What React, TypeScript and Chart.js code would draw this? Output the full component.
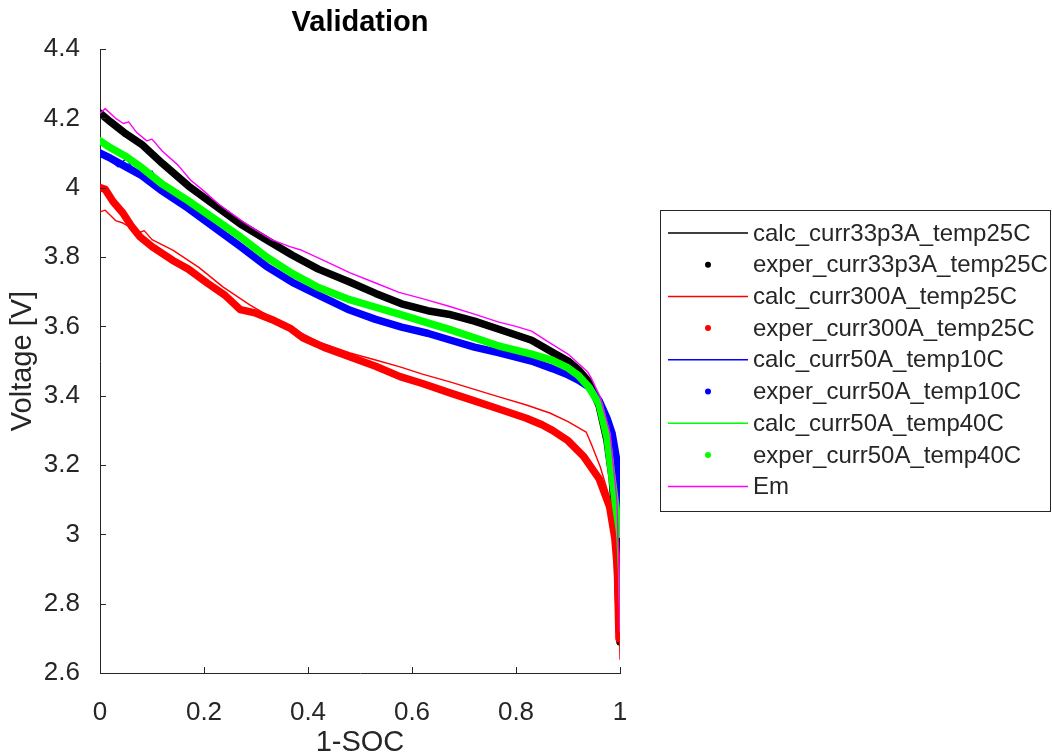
import React, { useEffect, useRef } from "react";
import { Chart, registerables } from "chart.js";

Chart.register(...registerables);

// ---- data ----
const gridSoc = [0, 0.02, 0.05, 0.08, 0.12, 0.17, 0.22, 0.27, 0.32, 0.37, 0.42, 0.48, 0.53, 0.58, 0.63, 0.67, 0.72, 0.77, 0.83, 0.87, 0.9, 0.92, 0.94, 0.96, 0.975, 0.985, 0.993, 0.997, 1.0];

const calc33V = [4.21, 4.188, 4.152, 4.122, 4.068, 4.003, 3.948, 3.893, 3.848, 3.803, 3.763, 3.726, 3.693, 3.663, 3.645, 3.633, 3.613, 3.588, 3.558, 3.525, 3.5, 3.478, 3.445, 3.38, 3.28, 3.15, 2.98, 2.8, 2.7];
const exper33V = [4.215, 4.19, 4.155, 4.125, 4.07, 4.005, 3.95, 3.895, 3.85, 3.805, 3.765, 3.728, 3.695, 3.665, 3.645, 3.635, 3.615, 3.59, 3.56, 3.525, 3.5, 3.475, 3.44, 3.37, 3.27, 3.16, 2.99, 2.82, 2.69];

const calc300Soc = [0, 0.01, 0.03, 0.044, 0.06, 0.075, 0.085, 0.1, 0.14, 0.19, 0.237, 0.288, 0.33, 0.365, 0.42, 0.481, 0.53, 0.577, 0.62, 0.673, 0.72, 0.769, 0.82, 0.865, 0.9, 0.935, 0.945, 0.962, 0.981, 0.994, 0.998, 1.0];
const calc300V = [3.93, 3.935, 3.905, 3.898, 3.885, 3.87, 3.876, 3.85, 3.82, 3.77, 3.713, 3.662, 3.625, 3.598, 3.555, 3.523, 3.503, 3.483, 3.462, 3.44, 3.418, 3.396, 3.373, 3.35, 3.325, 3.295, 3.26, 3.195, 3.1, 2.955, 2.8, 2.64];
const exper300Soc = [0, 0.01, 0.025, 0.044, 0.06, 0.077, 0.1, 0.14, 0.17, 0.206, 0.24, 0.27, 0.3, 0.33, 0.365, 0.39, 0.43, 0.48, 0.53, 0.577, 0.62, 0.673, 0.72, 0.77, 0.82, 0.85, 0.87, 0.9, 0.93, 0.96, 0.98, 0.99, 0.995, 0.998];
const exper300V = [4.0, 3.995, 3.96, 3.927, 3.89, 3.858, 3.83, 3.79, 3.765, 3.725, 3.69, 3.648, 3.638, 3.62, 3.595, 3.567, 3.54, 3.512, 3.485, 3.455, 3.435, 3.408, 3.385, 3.36, 3.335, 3.316, 3.3, 3.27, 3.225, 3.16, 3.08, 2.99, 2.9, 2.7];

const calc10Soc = [0, 0.015, 0.035, 0.05, 0.065, 0.085, 0.1, 0.115, 0.14, 0.17, 0.22, 0.27, 0.32, 0.37, 0.42, 0.48, 0.53, 0.58, 0.63, 0.67, 0.72, 0.77, 0.83, 0.87, 0.9, 0.92, 0.94, 0.96, 0.975, 0.985, 0.993, 0.997, 1.0];
const calc10V = [4.09, 4.085, 4.06, 4.085, 4.05, 4.03, 4.048, 4.01, 3.98, 3.945, 3.887, 3.832, 3.775, 3.728, 3.69, 3.65, 3.622, 3.6, 3.582, 3.565, 3.542, 3.525, 3.502, 3.48, 3.462, 3.447, 3.428, 3.39, 3.34, 3.29, 3.22, 3.14, 3.02];
const exper10V = [4.1, 4.085, 4.06, 4.035, 3.99, 3.94, 3.885, 3.83, 3.773, 3.727, 3.69, 3.647, 3.62, 3.598, 3.58, 3.562, 3.54, 3.523, 3.5, 3.478, 3.46, 3.445, 3.425, 3.385, 3.335, 3.29, 3.22, 3.15, 3.0];

const calc40V = [4.13, 4.112, 4.087, 4.055, 4.008, 3.96, 3.908, 3.856, 3.8, 3.75, 3.71, 3.675, 3.653, 3.63, 3.608, 3.59, 3.565, 3.54, 3.518, 3.5, 3.478, 3.456, 3.423, 3.37, 3.27, 3.15, 3.03, 2.9, 2.75];
const exper40V = [4.135, 4.115, 4.09, 4.058, 4.01, 3.962, 3.91, 3.858, 3.8, 3.752, 3.712, 3.677, 3.655, 3.633, 3.61, 3.592, 3.567, 3.542, 3.52, 3.502, 3.48, 3.458, 3.425, 3.375, 3.28, 3.16, 3.07, 3.03, 3.0];

const emSoc = [0, 0.01, 0.03, 0.045, 0.055, 0.07, 0.09, 0.1, 0.12, 0.15, 0.174, 0.2, 0.23, 0.27, 0.29, 0.33, 0.365, 0.385, 0.43, 0.48, 0.53, 0.575, 0.62, 0.671, 0.72, 0.767, 0.8, 0.83, 0.862, 0.9, 0.938, 0.945, 0.962, 0.981, 0.994, 0.998, 1.0];
const emV = [4.215, 4.228, 4.2, 4.185, 4.19, 4.16, 4.135, 4.14, 4.105, 4.065, 4.022, 3.99, 3.95, 3.907, 3.887, 3.85, 3.83, 3.821, 3.79, 3.755, 3.725, 3.698, 3.68, 3.658, 3.635, 3.612, 3.6, 3.586, 3.555, 3.52, 3.468, 3.45, 3.396, 3.292, 3.1, 2.9, 2.72];

const seriesNames = [
  "calc_curr33p3A_temp25C",
  "exper_curr33p3A_temp25C",
  "calc_curr300A_temp25C",
  "exper_curr300A_temp25C",
  "calc_curr50A_temp10C",
  "exper_curr50A_temp10C",
  "calc_curr50A_temp40C",
  "exper_curr50A_temp40C",
  "Em",
];
const seriesColors = ["#000000", "#000000", "#ff0000", "#ff0000", "#0000ff", "#0000ff", "#00ff00", "#00ff00", "#ff00ff"];
const seriesIsDots = [false, true, false, true, false, true, false, true, false];

const titleText = "Validation";
const xTitle = "1-SOC";
const yTitle = "Voltage [V]";

const AXIS = "#262626";
const FONT = "'Liberation Sans', Arial, Helvetica, sans-serif";

function pts(xs: number[], ys: number[]) {
  return xs.map((x, i) => ({ x, y: ys[i] }));
}

const fmt = (v: number) => String(parseFloat(Number(v).toFixed(1)));

export default function App() {
  const ref = useRef<HTMLCanvasElement | null>(null);

  useEffect(() => {
    const canvas = ref.current;
    if (!canvas) return;

    const seriesData = [
      pts(gridSoc, calc33V),
      pts(gridSoc, exper33V),
      pts(calc300Soc, calc300V),
      pts(exper300Soc, exper300V),
      pts(calc10Soc, calc10V),
      pts(gridSoc, exper10V),
      pts(gridSoc, calc40V),
      pts(gridSoc, exper40V),
      pts(emSoc, emV),
    ];

    const datasets = seriesData.map((d, i) => ({
      label: seriesNames[i],
      data: d,
      borderColor: seriesColors[i],
      backgroundColor: seriesColors[i],
      borderWidth: seriesIsDots[i] ? 7.5 : 1.4,
      pointRadius: 0,
      borderCapStyle: "round" as const,
      borderJoinStyle: "round" as const,
      tension: 0,
      fill: false,
      order: -i,
    }));

    const extras = {
      id: "matlabExtras",
      afterDraw(chart: any) {
        const ctx = chart.ctx;
        const area = chart.chartArea;
        const xs = chart.scales.x;
        const ys = chart.scales.y;
        ctx.save();
        // inward ticks
        ctx.strokeStyle = AXIS;
        ctx.lineWidth = 1;
        ctx.beginPath();
        xs.ticks.forEach((t: any) => {
          const px = Math.round(xs.getPixelForValue(t.value)) + 0.5;
          ctx.moveTo(px, area.bottom);
          ctx.lineTo(px, area.bottom - 6);
        });
        ys.ticks.forEach((t: any) => {
          const py = Math.round(ys.getPixelForValue(t.value)) + 0.5;
          ctx.moveTo(area.left, py);
          ctx.lineTo(area.left + 6, py);
        });
        ctx.stroke();

        // title
        ctx.fillStyle = "#000000";
        ctx.font = `bold 29px ${FONT}`;
        ctx.textAlign = "center";
        ctx.textBaseline = "middle";
        ctx.fillText(titleText, (area.left + area.right) / 2, 23);

        // legend
        const bx = 660.5, by = 210.5, bw = 390, bh = 301;
        ctx.fillStyle = "#ffffff";
        ctx.fillRect(bx, by, bw, bh);
        ctx.strokeStyle = AXIS;
        ctx.lineWidth = 1;
        ctx.strokeRect(bx, by, bw, bh);
        ctx.font = `24px ${FONT}`;
        ctx.textAlign = "left";
        ctx.textBaseline = "middle";
        seriesNames.forEach((name, i) => {
          const cy = 233 + i * 31.7;
          if (seriesIsDots[i]) {
            ctx.fillStyle = seriesColors[i];
            ctx.beginPath();
            ctx.arc(708, cy, 3, 0, Math.PI * 2);
            ctx.fill();
          } else {
            ctx.strokeStyle = seriesColors[i];
            ctx.lineWidth = 1.5;
            ctx.beginPath();
            ctx.moveTo(668, cy);
            ctx.lineTo(748, cy);
            ctx.stroke();
          }
          ctx.fillStyle = AXIS;
          ctx.fillText(name, 753, cy + 1);
        });
        ctx.restore();
      },
    };

    const chart = new Chart(canvas, {
      type: "line",
      data: { datasets: datasets as any },
      options: {
        animation: false,
        responsive: false,
        maintainAspectRatio: false,
        devicePixelRatio: 1,
        layout: { padding: { left: 0, top: 49, right: 432, bottom: 0 } },
        plugins: {
          legend: { display: false },
          tooltip: { enabled: false },
          title: { display: false },
        },
        scales: {
          x: {
            type: "linear",
            min: 0,
            max: 1,
            grid: { display: false },
            border: { display: true, color: AXIS, width: 1 },
            ticks: {
              stepSize: 0.2,
              autoSkip: false,
              maxRotation: 0,
              padding: 16,
              color: AXIS,
              font: { family: FONT, size: 26 },
              callback: (v: any) => fmt(v),
            },
            title: {
              display: true,
              text: xTitle,
              color: AXIS,
              font: { family: FONT, size: 29 },
              padding: { top: 0, bottom: -5 },
            },
            afterFit: (s: any) => {
              s.height = 82;
            },
          },
          y: {
            type: "linear",
            min: 2.6,
            max: 4.4,
            grid: { display: false },
            border: { display: true, color: AXIS, width: 1 },
            ticks: {
              stepSize: 0.2,
              autoSkip: false,
              padding: 12,
              color: AXIS,
              font: { family: FONT, size: 26 },
              callback: (v: any) => fmt(v),
            },
            title: {
              display: true,
              text: yTitle,
              color: AXIS,
              font: { family: FONT, size: 29 },
              padding: { top: 6, bottom: 0 },
            },
            afterFit: (s: any) => {
              s.width = 100;
            },
          },
        },
      },
      plugins: [extras],
    });

    return () => chart.destroy();
  }, []);

  return (
    <div style={{ position: "absolute", left: 0, top: 0, width: 1052, height: 755, background: "#ffffff" }}>
      <canvas ref={ref} width={1052} height={755} style={{ display: "block", width: 1052, height: 755 }} />
    </div>
  );
}
